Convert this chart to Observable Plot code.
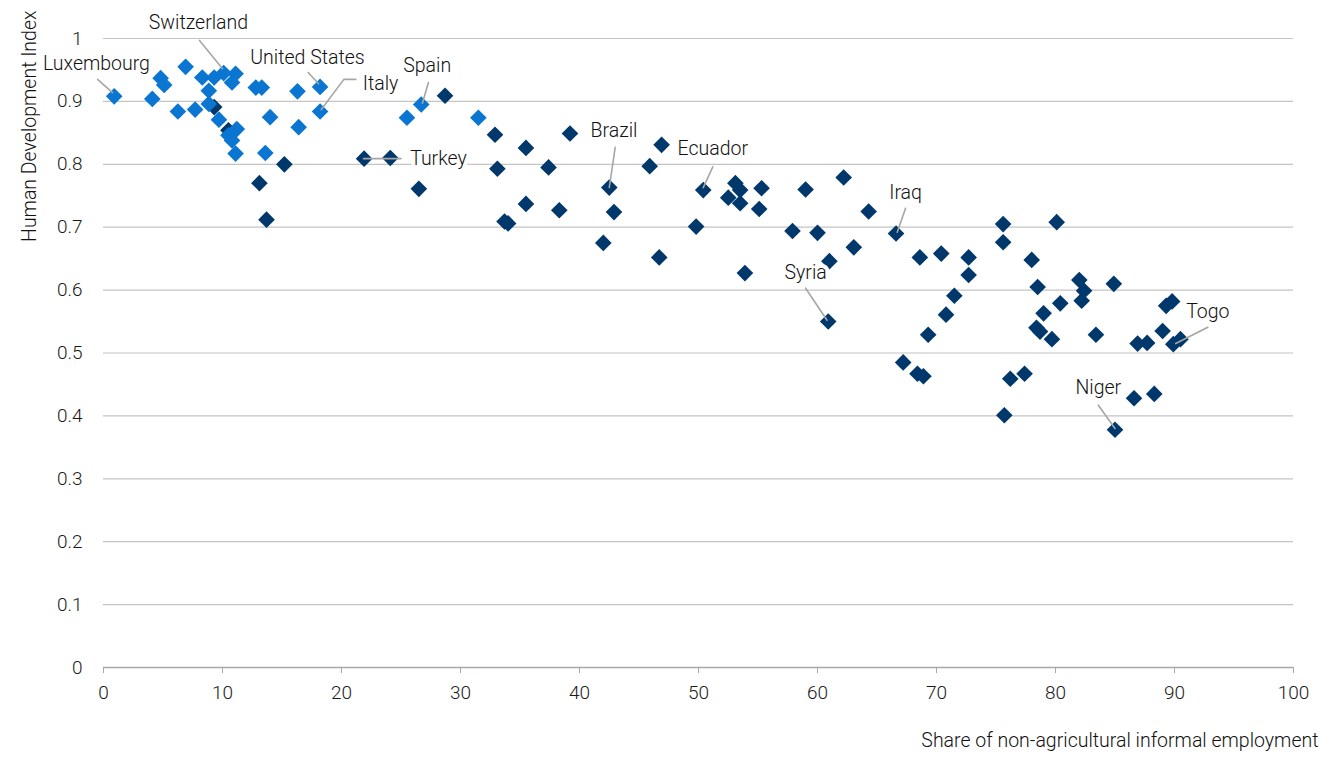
<!DOCTYPE html>
<html><head><meta charset="utf-8">
<script src="https://cdn.jsdelivr.net/npm/d3@7"></script>
<script src="https://cdn.jsdelivr.net/npm/@observablehq/plot@0.6"></script>
<style>
body{margin:0;background:#fff}
#chart svg{font-family:Roboto,"Liberation Sans",sans-serif;font-weight:300}
</style>
</head><body><div id="chart"></div>
<script>
// Light blue series (very high HDI)
const lightX = [0.9,4.1,4.8,5.1,6.9,6.25,7.7,8.3,9.3,10.1,11.1,10.8,8.85,8.85,9.7,11.2,10.5,10.8,11.1,12.8,13.3,14.0,13.6,16.3,16.4,18.2,18.2,25.5,26.7,31.5];
const lightY = [0.908,0.904,0.937,0.926,0.955,0.884,0.887,0.938,0.938,0.945,0.944,0.930,0.917,0.896,0.871,0.856,0.846,0.838,0.817,0.922,0.922,0.875,0.818,0.916,0.859,0.923,0.884,0.874,0.895,0.874];
// Dark blue series (other countries)
const darkX = [9.3,10.5,13.1,13.7,15.2,21.9,24.1,26.5,28.7,32.9,33.1,33.7,34.0,35.5,35.5,37.4,38.3,39.2,42.0,42.5,42.9,45.9,46.7,46.9,49.8,50.4,52.5,53.1,53.5,53.5,53.9,55.1,55.3,57.9,59.0,60.0,60.9,61.0,62.2,63.05,64.3,66.6,67.2,68.4,68.6,68.9,69.3,70.4,70.8,71.5,72.7,72.7,75.6,75.6,75.7,76.2,77.4,78.0,78.5,78.4,78.7,79.0,79.7,80.1,80.4,82.0,82.2,82.4,83.4,84.9,85.0,86.6,86.9,87.7,88.3,89.0,89.3,89.8,89.9,90.5];
const darkY = [0.891,0.854,0.770,0.712,0.800,0.809,0.810,0.761,0.909,0.847,0.793,0.709,0.706,0.826,0.737,0.795,0.727,0.849,0.675,0.763,0.724,0.797,0.652,0.831,0.701,0.759,0.747,0.770,0.759,0.738,0.627,0.729,0.762,0.694,0.760,0.691,0.550,0.646,0.779,0.668,0.725,0.690,0.485,0.467,0.652,0.463,0.529,0.658,0.561,0.591,0.652,0.624,0.705,0.676,0.401,0.459,0.467,0.648,0.605,0.540,0.534,0.563,0.522,0.708,0.579,0.616,0.583,0.599,0.529,0.610,0.378,0.428,0.515,0.516,0.435,0.535,0.575,0.582,0.514,0.522];

// Country labels (label anchor in data units)
const labelNames = ["Luxembourg","Switzerland","United States","Italy","Spain","Turkey","Brazil","Ecuador","Iraq","Syria","Niger","Togo"];
const labelX = [-0.59,7.98,17.14,23.28,27.2,28.15,42.9,51.2,67.4,59.0,83.6,92.8];
const labelY = [0.960,1.025,0.970,0.928,0.957,0.809,0.854,0.824,0.754,0.628,0.444,0.566];
// Leader lines (polyline vertices, grouped by name)
const leaderName = ["Luxembourg","Luxembourg","Switzerland","Switzerland","United States","United States","Italy","Italy","Italy","Spain","Spain","Turkey","Turkey","Brazil","Brazil","Ecuador","Ecuador","Iraq","Iraq","Syria","Syria","Niger","Niger","Togo","Togo"];
const leaderX = [-0.50,0.76,8.07,10.0,17.2,18.07,21.2,20.2,18.3,27.3,26.8,21.85,25.0,43.0,42.5,51.2,50.4,67.4,66.7,59.0,60.8,83.6,85.0,92.8,90.1];
const leaderY = [0.935,0.914,0.997,0.952,0.946,0.928,0.935,0.935,0.887,0.930,0.897,0.809,0.809,0.827,0.763,0.796,0.763,0.730,0.692,0.603,0.552,0.417,0.380,0.541,0.515];

const xTicks = [0,10,20,30,40,50,60,70,80,90,100];
const yTicks = [0,0.1,0.2,0.3,0.4,0.5,0.6,0.7,0.8,0.9,1];
const xTitle = "Share of non-agricultural informal employment";
const yTitle = "Human Development Index";

const light = lightX.map((x,i)=>({x, y:lightY[i]}));
const dark = darkX.map((x,i)=>({x, y:darkY[i]}));
const labels = labelNames.map((name,i)=>({name, x:labelX[i], y:labelY[i]}));
const leaders = leaderName.map((name,i)=>({name, x:leaderX[i], y:leaderY[i]}));

const LIGHT = "#0a76d2", DARK = "#00386b";
const chart = Plot.plot({
  width: 1338, height: 758,
  marginLeft: 103, marginRight: 45, marginTop: 38, marginBottom: 91,
  x: {domain:[0,100]},
  y: {domain:[0,1]},
  marks: [
    Plot.gridY(yTicks, {stroke:"#c4c4c4", strokeOpacity:1, strokeWidth:1.2}),
    Plot.ruleY([0], {stroke:"#a8a8a8", strokeWidth:1.5}),
    Plot.axisX(xTicks, {tickSize:6, stroke:"#a8a8a8", tickPadding:12, fontSize:19, fill:"#1a1a1a", fontWeight:300, label:null}),
    Plot.axisY(yTicks, {tickSize:0, tickPadding:21, fontSize:19, fill:"#1a1a1a", fontWeight:300, label:null, tickFormat: d3.format("~g")}),
    Plot.dot(dark, {x:"x", y:"y", symbol:"diamond2", r:7.5, fill:DARK}),
    Plot.dot(light, {x:"x", y:"y", symbol:"diamond2", r:7.5, fill:LIGHT}),
    Plot.line(leaders, {x:"x", y:"y", z:"name", stroke:"#a6a6a6", strokeWidth:1.6}),
    Plot.text(labels, {x:"x", y:"y", text:"name", fontSize:19.5, fill:"#111", fontWeight:300, stroke:"white", strokeWidth:8, paintOrder:"stroke"}),
    Plot.text([xTitle], {text:d=>d, frameAnchor:"bottom-right", textAnchor:"end", dx:25, dy:79, fontSize:19.5, fill:"#111", fontWeight:300}),
    Plot.text([yTitle], {text:d=>d, frameAnchor:"top-left", rotate:-90, textAnchor:"end", dx:-81, dy:-28, fontSize:19.5, fill:"#111", fontWeight:300})
  ]
});
document.getElementById("chart").appendChild(chart);
</script></body></html>
